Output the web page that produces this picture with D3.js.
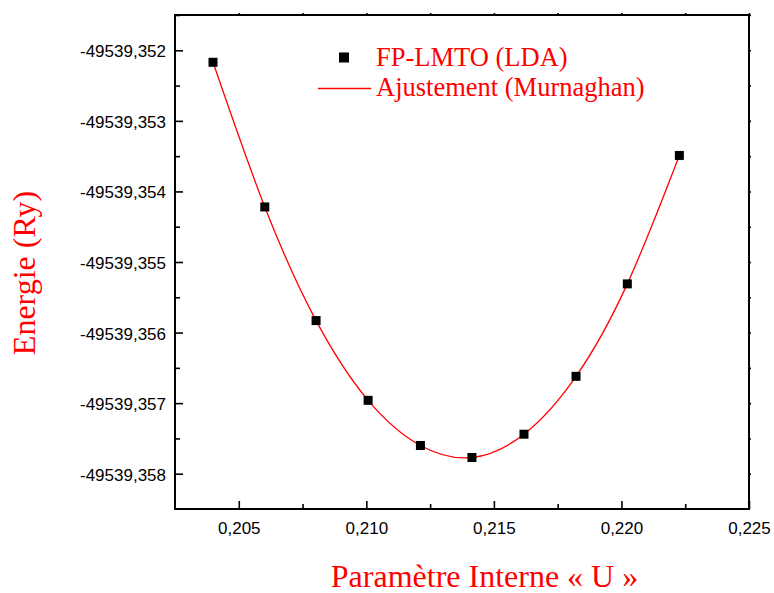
<!DOCTYPE html>
<html>
<head>
<meta charset="utf-8">
<script src="https://cdn.jsdelivr.net/npm/d3@7"></script>
<style>
  body { margin: 0; background: #fff; }
  svg { display: block; }
  .tick text { font-family: "Liberation Sans", Arial, sans-serif; font-size: 17px; fill: #000; }
  .serif { font-family: "Liberation Serif", "Times New Roman", serif; fill: #ff0000; }
</style>
</head>
<body>
<svg id="chart" width="774" height="593"></svg>
<script>
// Internal parameter u and total energy (Ry)
const uValues = [0.20399, 0.20602, 0.20803, 0.21007, 0.21212, 0.21414, 0.21618, 0.21822, 0.22023, 0.22227];
const energyValues = [-49539.35217, -49539.35422, -49539.35583, -49539.35696, -49539.35760,
                      -49539.35777, -49539.35744, -49539.35662, -49539.35531, -49539.35349];

const xTicks = [0.205, 0.210, 0.215, 0.220, 0.225];
const xMinorTicks = [0.2075, 0.2125, 0.2175, 0.2225];
const yTicks = [-49539.352, -49539.353, -49539.354, -49539.355, -49539.356, -49539.357, -49539.358];
const yMinorTicks = [-49539.3515, -49539.3525, -49539.3535, -49539.3545, -49539.3555, -49539.3565, -49539.3575];

const xDomain = [0.2025, 0.225];
const yDomain = [-49539.3585, -49539.3515];

const legendLabels = ["FP-LMTO (LDA)", "Ajustement (Murnaghan)"];
const xTitle = "Paramètre Interne « U »";
const yTitle = "Energie (Ry)";

const svg = d3.select("#chart");
const plotL = 175, plotR = 749, plotT = 15, plotB = 509;

const x = d3.scaleLinear().domain(xDomain).range([plotL, plotR]);
const y = d3.scaleLinear().domain(yDomain).range([plotB, plotT]);

// Decimal comma and a plain hyphen for the sign
const fmt = v => d3.format(".3f")(v).replace(".", ",").replace("\u2212", "-");

function styleTicks(g) {
  g.select(".domain").remove();
  g.selectAll(".tick line").attr("stroke", "#000").attr("stroke-width", 1.6);
}

// Left axis: labelled major ticks and minor ticks, pointing inward
svg.append("g").attr("transform", `translate(${plotL},0)`)
  .call(d3.axisLeft(y).tickValues(yTicks).tickSizeInner(-8).tickSizeOuter(0).tickPadding(9).tickFormat(fmt))
  .call(styleTicks)
  .call(g => g.selectAll(".tick text").attr("dy", "0.38em"));
svg.append("g").attr("transform", `translate(${plotL},0)`)
  .call(d3.axisLeft(y).tickValues(yMinorTicks).tickSizeInner(-5).tickSizeOuter(0).tickFormat(""))
  .call(styleTicks);

// Bottom axis
svg.append("g").attr("transform", `translate(0,${plotB})`)
  .call(d3.axisBottom(x).tickValues(xTicks).tickSizeInner(-8).tickSizeOuter(0).tickPadding(13).tickFormat(fmt))
  .call(styleTicks);
svg.append("g").attr("transform", `translate(0,${plotB})`)
  .call(d3.axisBottom(x).tickValues(xMinorTicks).tickSizeInner(-5).tickSizeOuter(0).tickFormat(""))
  .call(styleTicks);

// Top and right axes: short outward ticks, no labels
svg.append("g").attr("transform", `translate(0,${plotT})`)
  .call(d3.axisTop(x).tickValues(xTicks.concat(xMinorTicks)).tickSizeInner(2).tickSizeOuter(0).tickFormat(""))
  .call(styleTicks);
svg.append("g").attr("transform", `translate(${plotR},0)`)
  .call(d3.axisRight(y).tickValues(yTicks.concat(yMinorTicks)).tickSizeInner(2).tickSizeOuter(0).tickFormat(""))
  .call(styleTicks);

// Frame
svg.append("rect")
  .attr("x", plotL).attr("y", plotT)
  .attr("width", plotR - plotL).attr("height", plotB - plotT)
  .attr("fill", "none").attr("stroke", "#000").attr("stroke-width", 2);

// Fitted curve through the computed energies
const pts = uValues.map((u, i) => [u, energyValues[i]]);
svg.append("path")
  .datum(pts)
  .attr("fill", "none")
  .attr("stroke", "#ff0000")
  .attr("stroke-width", 1.3)
  .attr("d", d3.line().x(d => x(d[0])).y(d => y(d[1])).curve(d3.curveNatural));

// Computed points
const sq = 9;
svg.append("g").selectAll("rect")
  .data(pts)
  .join("rect")
  .attr("x", d => x(d[0]) - sq / 2)
  .attr("y", d => y(d[1]) - sq / 2)
  .attr("width", sq).attr("height", sq)
  .attr("fill", "#000");

// Legend
const lg = svg.append("g");
lg.append("rect").attr("x", 339).attr("y", 52.5).attr("width", 10).attr("height", 10).attr("fill", "#000");
lg.append("text").attr("class", "serif").attr("x", 376).attr("y", 65.5)
  .attr("font-size", 26.5).text(legendLabels[0]);
lg.append("line").attr("x1", 318).attr("x2", 371).attr("y1", 88.5).attr("y2", 88.5)
  .attr("stroke", "#ff0000").attr("stroke-width", 1.3);
lg.append("text").attr("class", "serif").attr("x", 376).attr("y", 95.5)
  .attr("font-size", 26.5).text(legendLabels[1]);

// Axis titles
svg.append("text").attr("class", "serif")
  .attr("x", 484.5).attr("y", 587)
  .attr("text-anchor", "middle").attr("font-size", 32).text(xTitle);
svg.append("text").attr("class", "serif")
  .attr("transform", "translate(35,273) rotate(-90)")
  .attr("text-anchor", "middle").attr("font-size", 32).text(yTitle);
</script>
</body>
</html>
